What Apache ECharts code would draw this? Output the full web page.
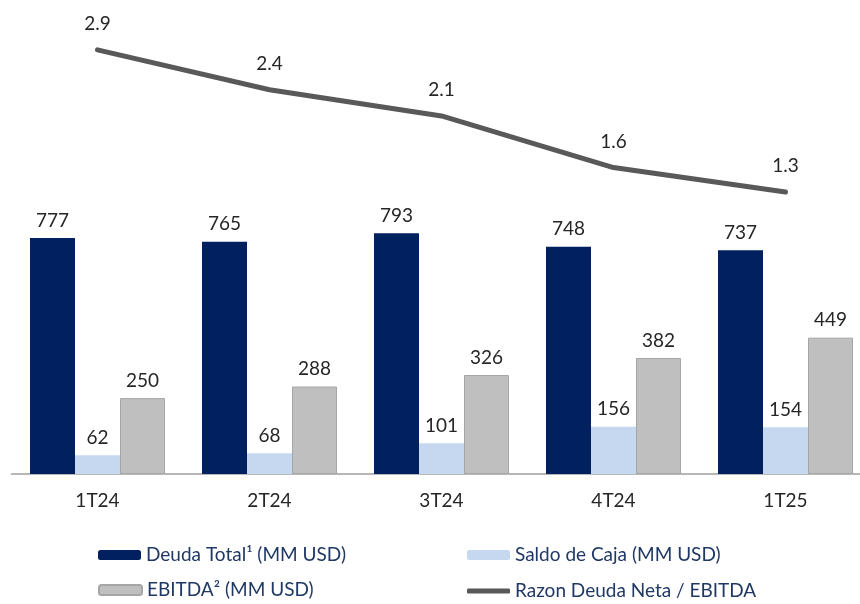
<!DOCTYPE html>
<html>
<head>
<meta charset="utf-8">
<script src="https://cdn.jsdelivr.net/npm/echarts@6/dist/echarts.min.js"></script>
<style>
  html, body { margin: 0; padding: 0; background: #fff; }
  #main { width: 860px; height: 604px; }
</style>
</head>
<body>
<div id="main"></div>
<script>
var categories = ["1T24", "2T24", "3T24", "4T24", "1T25"];
var deudaTotal = [777, 765, 793, 748, 737];
var saldoCaja = [62, 68, 101, 156, 154];
var ebitda = [250, 288, 326, 382, 449];
var razonDeuda = [2.87, 2.43, 2.14, 1.57, 1.3];

var seriesNames = [
  "Deuda Total¹ (MM USD)",
  "Saldo de Caja (MM USD)",
  "EBITDA² (MM USD)",
  "Razon Deuda Neta / EBITDA"
];

var font = "Lato";
var legendText = { color: "#1f3864", fontSize: 19, fontFamily: font, lineHeight: 20 };

function legendItem(name, left, top, h) {
  return {
    data: [name],
    left: left,
    top: top,
    padding: 0,
    itemWidth: 43,
    itemHeight: h,
    selectedMode: false,
    textStyle: legendText
  };
}

var myChart = echarts.init(document.getElementById("main"));

var valueLabel = {
  show: true,
  position: "top",
  distance: 8,
  color: "#262626",
  fontSize: 19,
  fontFamily: font
};

var option = {
  animation: false,
  backgroundColor: "#fff",
  legend: [
    legendItem(seriesNames[0], 98, 545, 10),
    legendItem(seriesNames[1], 467, 545, 10),
    legendItem(seriesNames[2], 98, 580, 10),
    Object.assign(legendItem(seriesNames[3], 467, 581, 5), { icon: "roundRect" })
  ],
  grid: { left: 11.5, top: 20, width: 860, height: 454, outerBoundsMode: "none" },
  xAxis: {
    type: "category",
    data: categories,
    axisTick: { show: false },
    axisLine: { lineStyle: { color: "#a0a0a0", width: 1.5 } },
    axisLabel: { color: "#262626", fontSize: 19, fontFamily: font, margin: 17 }
  },
  yAxis: [
    { type: "value", min: 0, max: 1495, show: false, splitLine: { show: false } },
    { type: "value", min: -1.814, max: 3.2, show: false, splitLine: { show: false } }
  ],
  series: [
    {
      name: seriesNames[0],
      type: "bar",
      data: deudaTotal,
      barWidth: 45,
      barGap: "0%",
      itemStyle: { color: "#002060" },
      label: valueLabel
    },
    {
      name: seriesNames[1],
      type: "bar",
      data: saldoCaja,
      barWidth: 45,
      barGap: "0%",
      itemStyle: { color: "#c5d8f0" },
      label: valueLabel
    },
    {
      name: seriesNames[2],
      type: "bar",
      data: ebitda,
      barWidth: 45,
      barGap: "0%",
      itemStyle: { color: "#bfbfbf", borderColor: "#a6a6a6", borderWidth: 1 },
      label: valueLabel
    },
    {
      name: seriesNames[3],
      type: "line",
      yAxisIndex: 1,
      data: razonDeuda,
      symbol: "circle",
      symbolSize: 1,
      z: 5,
      itemStyle: { color: "#595959" },
      lineStyle: { color: "#595959", width: 5, cap: "round", join: "round" },
      label: {
        show: true,
        position: "top",
        distance: 16,
        color: "#262626",
        fontSize: 19,
        fontFamily: font,
        formatter: function (p) { return p.value.toFixed(1); }
      }
    }
  ]
};

myChart.setOption(option);
</script>
</body>
</html>
